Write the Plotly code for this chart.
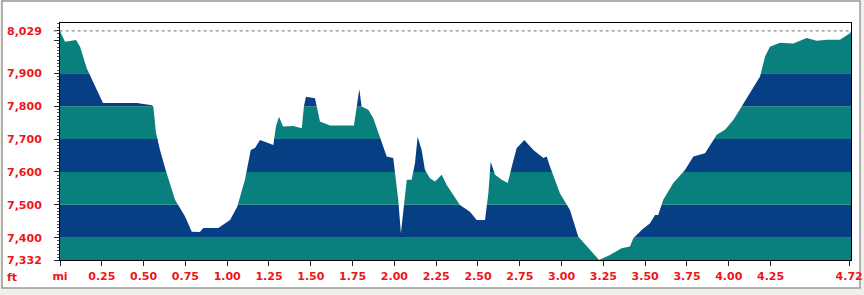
import plotly.graph_objects as go

# ---- data ----
miles = [0.000, 0.030, 0.096, 0.120, 0.160, 0.249, 0.257, 0.461, 0.550, 0.558,
         0.574, 0.598, 0.632, 0.688, 0.748, 0.788, 0.837, 0.857, 0.947, 1.017,
         1.060, 1.106, 1.141, 1.166, 1.196, 1.276, 1.292, 1.310, 1.334, 1.395,
         1.446, 1.459, 1.471, 1.525, 1.555, 1.615, 1.758, 1.775, 1.790, 1.804,
         1.844, 1.874, 1.914, 1.954, 1.993, 2.004, 2.023, 2.039, 2.057, 2.074,
         2.103, 2.123, 2.139, 2.163, 2.183, 2.213, 2.243, 2.283, 2.313, 2.392,
         2.452, 2.492, 2.542, 2.562, 2.576, 2.602, 2.642, 2.678, 2.702, 2.731,
         2.777, 2.831, 2.891, 2.911, 2.931, 2.990, 3.050, 3.100, 3.170, 3.224,
         3.289, 3.359, 3.409, 3.429, 3.479, 3.529, 3.559, 3.578, 3.608, 3.668,
         3.738, 3.788, 3.858, 3.928, 3.977, 4.027, 4.077, 4.137, 4.187, 4.217,
         4.246, 4.306, 4.386, 4.466, 4.526, 4.586, 4.665, 4.725, 4.731]
elev_ft = [8029, 7996, 8001, 7981, 7915, 7814, 7810, 7810, 7803, 7800,
           7720, 7667, 7606, 7515, 7464, 7418, 7417, 7429, 7429, 7454,
           7494, 7576, 7667, 7673, 7697, 7682, 7740, 7768, 7738, 7740,
           7733, 7800, 7829, 7824, 7753, 7741, 7741, 7799, 7852, 7799,
           7789, 7763, 7702, 7647, 7642, 7596, 7515, 7413, 7505, 7576,
           7576, 7626, 7707, 7667, 7606, 7581, 7571, 7591, 7560, 7499,
           7479, 7454, 7454, 7535, 7631, 7591, 7576, 7566, 7616, 7672,
           7697, 7667, 7642, 7647, 7616, 7535, 7484, 7403, 7363, 7332,
           7347, 7368, 7373, 7398, 7423, 7444, 7469, 7469, 7515, 7566,
           7606, 7647, 7657, 7713, 7728, 7758, 7799, 7849, 7890, 7951,
           7981, 7993, 7991, 8007, 7999, 8002, 8002, 8022, 8029]

x_tick_vals = [0, 0.25, 0.50, 0.75, 1.00, 1.25, 1.50, 1.75, 2.00, 2.25, 2.50,
               2.75, 3.00, 3.25, 3.50, 3.75, 4.00, 4.25, 4.72]
x_tick_text = ["mi", "0.25", "0.50", "0.75", "1.00", "1.25", "1.50", "1.75",
               "2.00", "2.25", "2.50", "2.75", "3.00", "3.25", "3.50", "3.75",
               "4.00", "4.25", "4.72"]
y_tick_vals = [7332, 7400, 7500, 7600, 7700, 7800, 7900, 8000, 8029]
y_tick_text = ["7,332", "7,400", "7,500", "7,600", "7,700", "7,800", "7,900", "", "8,029"]
band_edges = [7332, 7400, 7500, 7600, 7700, 7800, 7900, 8053]
band_colors = ["#0a807e", "#063f84"]

y_min, y_max = 7332, 8053
x_min, x_max = 0, 4.731
max_elev = 8029

RED = "#f0141a"
FONT = "DejaVu Sans"

fig = go.Figure()

# curve (boundary)
fig.add_trace(go.Scatter(x=miles, y=elev_ft, mode="lines",
                         line=dict(color="white", width=0),
                         hoverinfo="skip", showlegend=False))
# white area above the curve
fig.add_trace(go.Scatter(x=miles, y=[y_max] * len(miles), mode="lines",
                         line=dict(width=0), fill="tonexty", fillcolor="white",
                         hoverinfo="skip", showlegend=False))

shapes = []
# outer panel
shapes.append(dict(type="rect", xref="paper", yref="paper",
                   x0=-0.0733, x1=1.0114, y0=-0.118, y1=1.0928,
                   fillcolor="white", line=dict(color="#9a9a94", width=1.5),
                   layer="below"))
# elevation bands
for i in range(len(band_edges) - 1):
    shapes.append(dict(type="rect", xref="x", yref="y",
                       x0=x_min, x1=x_max, y0=band_edges[i], y1=band_edges[i + 1],
                       fillcolor=band_colors[i % 2], line=dict(width=0),
                       layer="below"))
# dotted max line
shapes.append(dict(type="line", xref="paper", yref="y",
                   x0=-0.008, x1=1, y0=max_elev, y1=max_elev,
                   line=dict(color="#8c8c8c", width=1.2, dash="dot"),
                   layer="above"))
fig.update_layout(shapes=shapes)

fig.add_annotation(text="ft", xref="paper", yref="paper",
                   x=-0.069, y=-0.075, xanchor="left", yanchor="middle",
                   showarrow=False,
                   font=dict(family=FONT, size=11, color=RED, weight="bold"))

fig.update_xaxes(range=[x_min, x_max], tickvals=x_tick_vals, ticktext=x_tick_text,
                 ticks="outside", ticklen=5, tickcolor="#222", tickwidth=1,
                 showline=True, mirror=True, linecolor="black", linewidth=1,
                 showgrid=False, zeroline=False, automargin=False,
                 ticklabelstandoff=1,
                 tickfont=dict(family=FONT, size=11, color=RED, weight="bold"))
fig.update_yaxes(range=[y_min, y_max], tickvals=y_tick_vals, ticktext=y_tick_text,
                 ticks="outside", ticklen=5, tickcolor="#222", tickwidth=1,
                 showline=True, mirror=True, linecolor="black", linewidth=1,
                 showgrid=False, zeroline=False, ticklabelstandoff=10,
                 automargin=False,
                 minor=dict(dtick=10, ticks="outside", ticklen=2, tickcolor="#555"),
                 tickfont=dict(family=FONT, size=11, color=RED, weight="bold"))

fig.update_layout(width=864, height=295,
                  margin=dict(l=60, r=13, t=23, b=35),
                  paper_bgcolor="#efeeea", plot_bgcolor="white",
                  showlegend=False)

fig.write_html("out.html")
